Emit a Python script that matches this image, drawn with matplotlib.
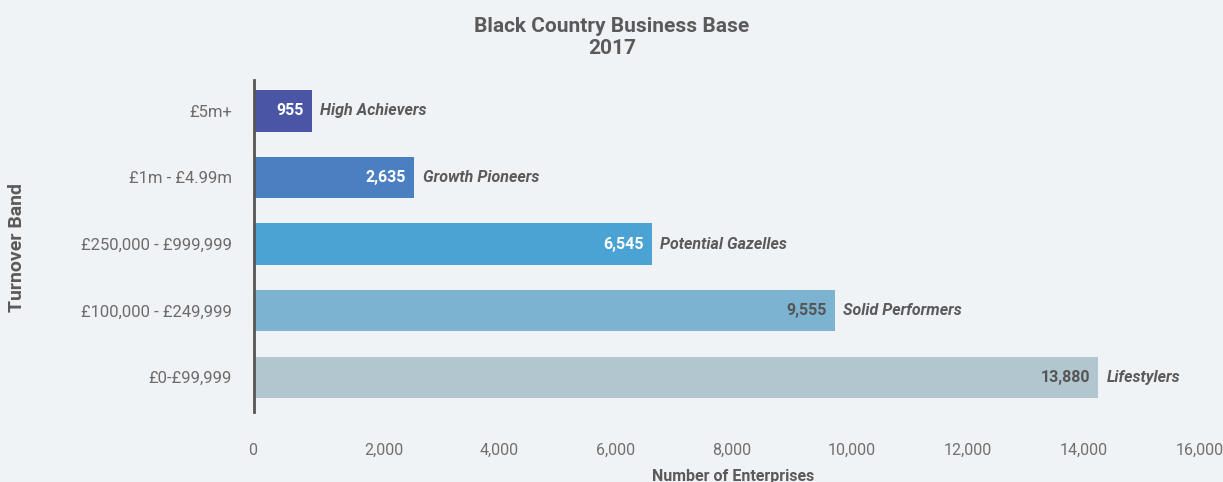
import matplotlib
matplotlib.use("Agg")
import matplotlib.pyplot as plt
import numpy as np

# turnover bands, top to bottom
bands = ["£5m+", "£1m - £4.99m", "£250,000 - £999,999", "£100,000 - £249,999", "£0-£99,999"]
enterprises = [955, 2635, 6545, 9555, 13880]
segments = ["High Achievers", "Growth Pioneers", "Potential Gazelles", "Solid Performers", "Lifestylers"]
bar_colors = ["#4a56a5", "#4a7fc1", "#4aa3d3", "#7cb3d0", "#b1c6cf"]
value_colors = ["white", "white", "white", "#555555", "#555555"]
x_ticks = [0, 2000, 4000, 6000, 8000, 10000, 12000, 14000, 16000]

bg = "#eff3f6"
txt = "#5a5a5a"
plt.rcParams['font.family'] = ['Roboto', 'DejaVu Sans']

W, H = 1223, 482
fig = plt.figure(figsize=(W / 100, H / 100), dpi=100, facecolor=bg)

# main plot area (pixel box 254..1212 x 80..412)
ax = fig.add_axes([254 / W, 1 - 412 / H, (1212 - 254) / W, (412 - 80) / H])
ax.set_facecolor(bg)
y = np.arange(len(bands))
ax.barh(y, enterprises, height=0.617, color=bar_colors)
ax.set_xlim(0, 15754)
ax.set_ylim(4.526, -0.466)

for spine in ["top", "right", "bottom"]:
    ax.spines[spine].set_visible(False)
ax.spines["left"].set_color("#555555")
ax.spines["left"].set_linewidth(2)

ax.set_yticks(y)
ax.set_yticklabels(bands, fontsize=12, color="#6c6c6c")
ax.tick_params(axis="y", length=0, pad=16)
ax.set_xticks([])

for i, v in enumerate(enterprises):
    ax.annotate(f"{v:,}", (v, i), xytext=(-6, 0), textcoords="offset points",
                ha="right", va="center", fontsize=11.5, fontweight="bold",
                color=value_colors[i])
    ax.annotate(segments[i], (v, i), xytext=(6, 0), textcoords="offset points",
                ha="left", va="center", fontsize=11.5, fontweight="bold",
                fontstyle="italic", color=txt)

# value axis labels
lab = fig.add_axes([248 / W, 1 - 412 / H, 928 / W, 0.001])
lab.set_xlim(0, 16000)
lab.set_xticks(x_ticks)
lab.set_xticklabels([f"{t:,}" for t in x_ticks], fontsize=11.5, color="#707070", ha="left")
lab.tick_params(axis="x", length=0, pad=22)
lab.set_yticks([])
for s in lab.spines.values():
    s.set_visible(False)
lab.patch.set_alpha(0)

fig.text(612 / W, 1 - 37 / H, "Black Country Business Base\n2017", ha="center", va="center",
         fontsize=15, fontweight="bold", color=txt, linespacing=1.2)
fig.text(17 / W, 1 - 247 / H, "Turnover Band", rotation=90, ha="center", va="center",
         fontsize=14, fontweight="bold", color=txt)
fig.text(733 / W, 1 - 476 / H, "Number of Enterprises", ha="center", va="center",
         fontsize=11.5, fontweight="bold", color=txt)

fig.savefig("out.png", dpi=100, facecolor=bg)
